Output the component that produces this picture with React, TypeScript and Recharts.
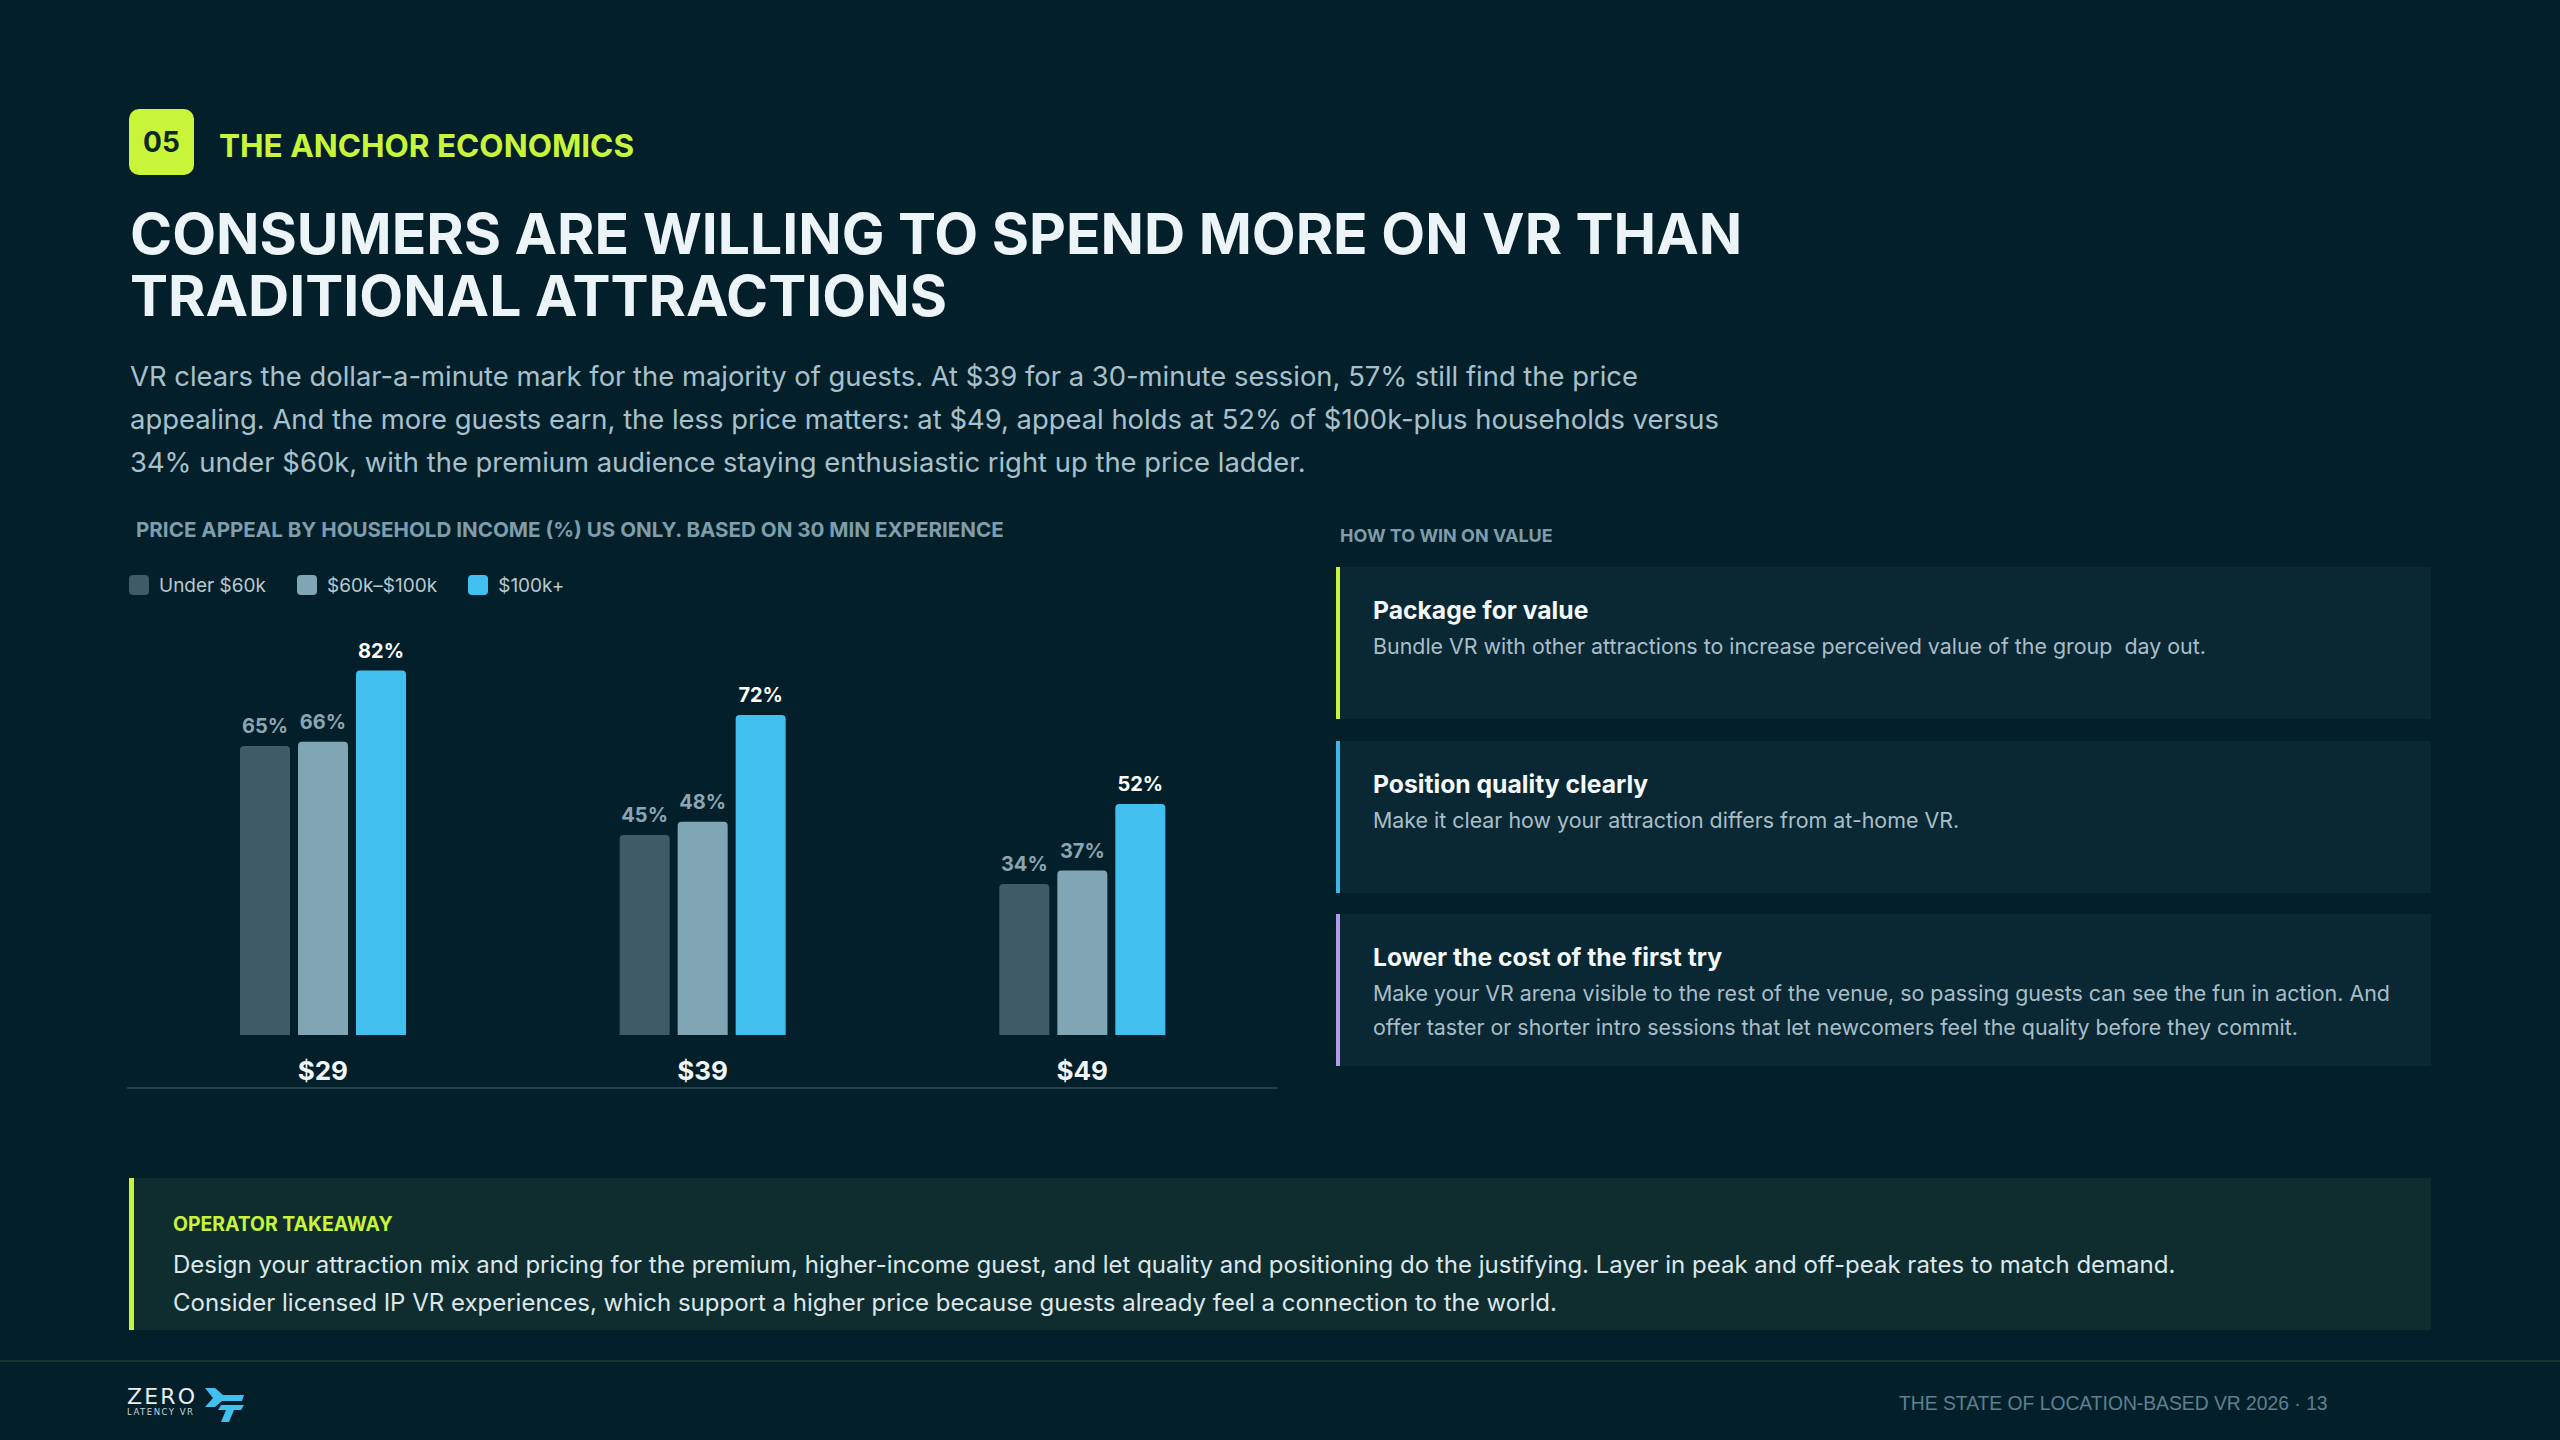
import React from 'react';
import { BarChart, Bar, XAxis, YAxis, Legend, LabelList } from 'recharts';

const categories = ['$29', '$39', '$49'];
const under60k = [65, 45, 34];
const mid60to100k = [66, 48, 37];
const over100k = [82, 72, 52];
const seriesKeys = ['under60k', 'mid', 'high'];
const seriesNames = ['Under $60k', '$60k–$100k', '$100k+'];
const seriesColors = ['#3e5b67', '#80a6b5', '#41c0ef'];
const labelColors = ['#8ba6b3', '#8ba6b3', '#ffffff'];
const yDomain = [0, 90];

const data = categories.map((c, i) => ({
  price: c,
  under60k: under60k[i],
  mid: mid60to100k[i],
  high: over100k[i],
}));

const FONT = 'Inter, "Noto Sans", sans-serif';
const BG = '#03202a';
const LIME = '#c8f43a';

const LegendContent = (props: any) => {
  const payload = [...(props.payload || [])].sort(
    (a: any, b: any) => seriesNames.indexOf(a.value) - seriesNames.indexOf(b.value)
  );
  return (
    <div style={{ height: 65, display: 'flex', alignItems: 'flex-start', fontFamily: FONT }}>
      {payload.map((p: any, i: number) => (
        <div key={i} style={{ display: 'flex', alignItems: 'center', height: 30, marginRight: 31 }}>
          <span style={{ width: 20, height: 20, borderRadius: 4, background: p.color, display: 'inline-block', marginRight: 10 }} />
          <span style={{ color: '#b9c9d1', fontSize: 19 }}>{p.value}</span>
        </div>
      ))}
    </div>
  );
};

const cards = [
  { title: 'Package for value', body: ['Bundle VR with other attractions to increase perceived value of the group  day out.'], color: LIME },
  { title: 'Position quality clearly', body: ['Make it clear how your attraction differs from at-home VR.'], color: '#3fb6e6' },
  {
    title: 'Lower the cost of the first try',
    body: [
      'Make your VR arena visible to the rest of the venue, so passing guests can see the fun in action. And',
      'offer taster or shorter intro sessions that let newcomers feel the quality before they commit.',
    ],
    color: '#b39be8',
  },
];

export default function App() {
  return (
    <div style={{ position: 'absolute', left: 0, top: 0, width: 2560, height: 1440, background: BG, fontFamily: FONT, overflow: 'hidden' }}>
      {/* Section badge */}
      <div style={{ position: 'absolute', left: 129, top: 109, width: 65, height: 66, borderRadius: 10, background: LIME, color: '#0a2a20', fontWeight: 700, fontSize: 28, display: 'flex', alignItems: 'center', justifyContent: 'center' }}>05</div>
      <div style={{ position: 'absolute', left: 219, top: 125, color: LIME, fontWeight: 700, fontSize: 31.5, lineHeight: '42px' }}>THE ANCHOR ECONOMICS</div>

      {/* Title */}
      <div style={{ position: 'absolute', left: 130, top: 203, color: '#edf4f8', fontWeight: 700, fontSize: 57, lineHeight: '62px' }}>
        <div style={{ height: 62 }}>CONSUMERS ARE WILLING TO SPEND MORE ON VR THAN</div>
        <div style={{ height: 62 }}>TRADITIONAL ATTRACTIONS</div>
      </div>

      {/* Paragraph */}
      <div style={{ position: 'absolute', left: 130, top: 355, color: '#a8c0cc', fontSize: 27.4, lineHeight: '43px' }}>
        VR clears the dollar-a-minute mark for the majority of guests. At $39 for a 30-minute session, 57% still find the price<br />
        appealing. And the more guests earn, the less price matters: at $49, appeal holds at 52% of $100k-plus households versus<br />
        34% under $60k, with the premium audience staying enthusiastic right up the price ladder.
      </div>

      {/* Chart subtitle */}
      <div style={{ position: 'absolute', left: 136, top: 517, color: '#7f9dab', fontWeight: 700, fontSize: 20.6, lineHeight: '26px' }}>
        PRICE APPEAL BY HOUSEHOLD INCOME (%) US ONLY. BASED ON 30 MIN EXPERIENCE
      </div>

      {/* Chart */}
      <div style={{ position: 'absolute', left: 127, top: 550, width: 1151, height: 537, borderBottom: '2px solid #23404c' }}>
        <BarChart width={1151} height={537} data={data} margin={{ top: 20, right: 6, bottom: 0, left: 6 }} barSize={50} barGap={8}>
          <XAxis dataKey="price" axisLine={false} tickLine={false} height={52} tickMargin={21}
            tick={{ fill: '#f2f6f8', fontSize: 26, fontWeight: 700, fontFamily: FONT }} />
          <YAxis hide domain={yDomain} />
          <Legend verticalAlign="top" align="left" wrapperStyle={{ left: 2 }} content={<LegendContent />} />
          {seriesKeys.map((k, i) => (
            <Bar key={k} dataKey={k} name={seriesNames[i]} fill={seriesColors[i]} radius={[4, 4, 0, 0]} isAnimationActive={false}>
              <LabelList dataKey={k} position="top" offset={13} fill={labelColors[i]} fontSize={20} fontWeight={700}
                fontFamily={FONT} formatter={(v: any) => `${v}%`} />
            </Bar>
          ))}
        </BarChart>
      </div>

      {/* Right panel */}
      <div style={{ position: 'absolute', left: 1340, top: 525, color: '#7f9dab', fontWeight: 700, fontSize: 18, lineHeight: '22px' }}>HOW TO WIN ON VALUE</div>
      {cards.map((c, i) => (
        <div key={i} style={{ position: 'absolute', left: 1336, top: 567 + i * 173.5, width: 1095, height: 152, background: '#0a2834', borderLeft: `4px solid ${c.color}`, boxSizing: 'border-box', paddingLeft: 33, paddingTop: 26 }}>
          <div style={{ color: '#f4f8fa', fontWeight: 700, fontSize: 24.7, lineHeight: '34px' }}>{c.title}</div>
          <div style={{ color: '#a9bec8', fontSize: 21.4, lineHeight: '34px', marginTop: 2, whiteSpace: 'pre' }}>
            {c.body.map((l, j) => (<div key={j}>{l}</div>))}
          </div>
        </div>
      ))}

      {/* Takeaway */}
      <div style={{ position: 'absolute', left: 129, top: 1178, width: 2302, height: 152, background: '#0f2d2e', borderLeft: `5px solid ${LIME}`, boxSizing: 'border-box', paddingLeft: 39, paddingTop: 34 }}>
        <div style={{ color: LIME, fontWeight: 700, fontSize: 19.4, lineHeight: '24px' }}>OPERATOR TAKEAWAY</div>
        <div style={{ color: '#dde7eb', fontSize: 24, lineHeight: '38px', marginTop: 10 }}>
          Design your attraction mix and pricing for the premium, higher-income guest, and let quality and positioning do the justifying. Layer in peak and off-peak rates to match demand.<br />
          Consider licensed IP VR experiences, which support a higher price because guests already feel a connection to the world.
        </div>
      </div>

      {/* Footer */}
      <div style={{ position: 'absolute', left: 0, top: 1360, width: 2560, height: 2, background: '#17352c' }} />
      <svg style={{ position: 'absolute', left: 127, top: 1384 }} width={125} height={42}>
        <text x={0} y={20} fill="#e8eef2" fontFamily="'DejaVu Sans', sans-serif" fontSize={22} letterSpacing={2.2}>ZERO</text>
        <text x={0} y={31} fill="#c9d4da" fontFamily="'DejaVu Sans', sans-serif" fontSize={8.5} letterSpacing={1.5}>LATENCY VR</text>
        <polygon points="78,4 88,4 96,11 117,11 115,17 95,17 88,23 78,23 86,14" fill="#41c0ef" />
        <polygon points="94,21 117,21 114,26 107,26 102,38 94,38 99,26 91,26" fill="#41c0ef" />
      </svg>
      <div style={{ position: 'absolute', left: 1899, top: 1391, color: '#5f8090', fontFamily: '"Liberation Sans", Arial, sans-serif', fontSize: 19.3, lineHeight: '26px' }}>
        THE STATE OF LOCATION-BASED VR 2026 · 13
      </div>
    </div>
  );
}
